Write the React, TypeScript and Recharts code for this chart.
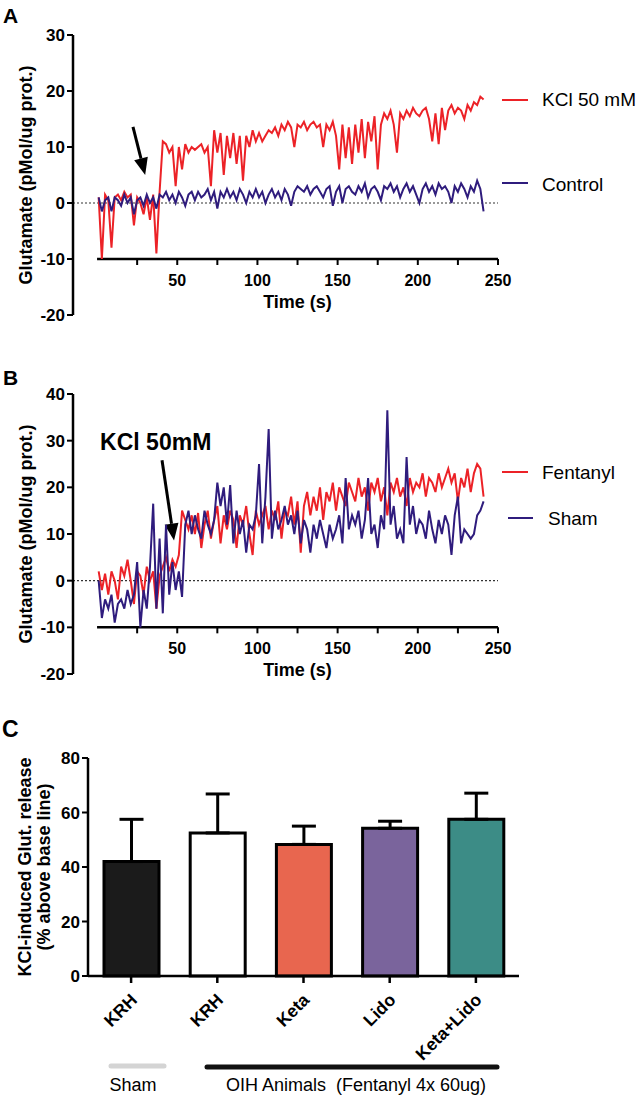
import React from "react";
import {
  Bar,
  BarChart,
  Cell,
  ErrorBar,
  Legend,
  Line,
  LineChart,
  ReferenceDot,
  ReferenceLine,
  XAxis,
  YAxis,
} from "recharts";

// sampling times (s), shared by panels A and B
const TIME = [
  1, 3, 5, 7, 9, 11, 13, 15, 17, 19,
  21, 23, 25, 27, 29, 31, 33, 35, 37, 39,
  41, 43, 45, 47, 49, 51, 53, 55, 57, 59,
  61, 63, 65, 67, 69, 71, 73, 75, 77, 79,
  81, 83, 85, 87, 89, 91, 93, 95, 97, 99,
  101, 103, 105, 107, 109, 111, 113, 115, 117, 119,
  121, 123, 125, 127, 129, 131, 133, 135, 137, 139,
  141, 143, 145, 147, 149, 151, 153, 155, 157, 159,
  161, 163, 165, 167, 169, 171, 173, 175, 177, 179,
  181, 183, 185, 187, 189, 191, 193, 195, 197, 199,
  201, 203, 205, 207, 209, 211, 213, 215, 217, 219,
  221, 223, 225, 227, 229, 231, 233, 235, 237, 239,
  241,
];

// panel A
const KCL_A = [
  1, -10, 1.5, 0.5, -8, 1, 1.5, 0.5, 2, 1,
  1.5, -4, 1, 0, -2, 1, -3, 1.5, -9, 2,
  11, 10.5, 9, 10, 3, 10, 6, 10.5, 9, 10,
  9.5, 10, 10.5, 9, 10, 3, 13, 9, 12.5, 5,
  12, 8, 12.5, 7, 12, 4, 12, 10, 13, 11,
  12.5, 11, 12, 13, 12.5, 13.5, 12, 14, 13, 14.5,
  13.5, 10, 14, 13.5, 14.5, 13, 14, 14.5, 13.5, 14,
  10, 14, 13, 14.5, 12, 6, 14, 8, 13.5, 7,
  14, 9, 15, 8, 14.5, 11, 15.5, 6, 14, 16,
  15, 16.5, 14, 9, 16, 15, 16.5, 15.5, 17, 16,
  15.5, 16.5, 17, 15, 11, 16, 10.5, 17, 13, 16.5,
  17.5, 16, 17, 16.5, 15, 17.5, 16.5, 18, 17.5, 19,
  18.5,
];

const CONTROL_A = [
  1, -1.5, 0.5, 1, -1.5, 1, 0.5, -0.5, 1.5, 0,
  1, -2, 0.5, 1, -0.5, 1.5, 0, 1, -1, 1.5,
  1, 2, 0.5, 1.5, 0, 2, 1, -0.5, 1.5, 2,
  0.5, 2, 1, 1.5, 2.5, 0.5, 2, -1, 2, 1,
  2.5, 1, 2, 0.5, 2.5, 1.5, 0, 2, 1, 2.5,
  1, 2, 0, 1.5, 2.5, 1, 2, 0.5, 2.5, 1.5,
  -0.5, 2, 3, 2.5, 2, 3, 1.5, 2.5, 3, 2,
  1, 2.5, 3, -0.5, 2, 3, 0, 2.5, 3, 2,
  1.5, 3, 2, 3.5, 1, 2.5, 3, 2, 0.5, 3,
  2.5, 3.5, 2, 3, 1, 2.5, 3.5, 2, 3, 1.5,
  0, 2.5, 3.5, 2, 3, 1.5, 3.5, 2.5, 3, 2,
  0, 3, 2, 3.5, 2.5, 1, 3, 2, 4, 2.5,
  -1.5,
];

// panel B
const FENTANYL_B = [
  2, -2, 1.5, -3, 2, 0, -4, 3, 1, 4.5,
  0, -5, 2, 1, -3, 3, 0, 2, -6, 1,
  3, 5, 2, 4.5, 3, 5.5, 15, 13, 11, 14,
  10, 14.5, 7, 12, 15, 9, 13, 16, 8, 14,
  11, 15, 13, 7, 14, 12, 16, 10, 5.5, 15,
  12, 14, 16, 11, 15, 13, 17, 9, 15, 14,
  18, 12, 17, 6, 16, 19, 14, 18, 15, 20,
  13, 19, 17, 21, 15, 20, 18, 16, 21, 19,
  17, 22, 18, 20, 15, 21, 19, 22, 17, 20,
  14, 21, 19, 22, 18, 20, 16, 22, 19, 21,
  20, 23, 18, 22, 21, 19, 23, 20, 22, 24,
  21, 23, 17, 22, 20, 24, 19, 23, 25, 24,
  18,
];

const SHAM_B = [
  0, -8, -4, -6, -3, -9, -5, -4, -6, -2,
  -5, -3, 4, -10, -2, -6, 3, 16.5, -6, 9,
  -7, 12, -3, 4, -2, 2, -3.5, 12, 15, 10,
  14, 11, 9, 15, 12, 10, 13, 21, 16, 20,
  12, 20.5, 8, 15, 10, 13, 6, 12, 11, 14,
  25, 8, 18, 32.5, 9, 15, 11, 13, 16, 12,
  14, 10, 15, 8, 13, 11, 6, 12, 9, 13,
  10, 7, 12, 9, 11, 14, 8, 22, 11, 14,
  12, 15, 9, 13, 22, 10, 12, 7, 14, 11,
  36.5, 12, 16, 9, 11, 8, 26.5, 12, 16, 10,
  13, 12, 9, 15, 11, 8, 13, 10, 14, 12,
  5.5, 14, 18, 8, 11, 10, 9, 10, 14, 15,
  17,
];

const TIME_TICKS = [25, 50, 75, 100, 125, 150, 175, 200, 225, 250];
const A_Y_TICKS = [-20, -10, 0, 10, 20, 30];
const B_Y_TICKS = [-20, -10, 0, 10, 20, 30, 40];

// panel C
const GROUPS = ["KRH", "KRH", "Keta", "Lido", "Keta+Lido"];
const RELEASE_MEAN = [42, 52.5, 48.3, 54.2, 57.5];
const RELEASE_SEM = [15.5, 14.3, 6.7, 2.6, 9.6];
const BAR_COLORS = ["#1b1b1b", "#ffffff", "#e8664f", "#7a649c", "#3c8c86"];
const C_Y_TICKS = [0, 20, 40, 60, 80];

const FONT = "'Liberation Sans', Arial, Helvetica, sans-serif";
const RED = "#ec2227";
const BLUE = "#2f1c7d";

const dataA = TIME.map((t, i) => ({ t, kcl: KCL_A[i], control: CONTROL_A[i] }));
const dataB = TIME.map((t, i) => ({ t, fentanyl: FENTANYL_B[i], sham: SHAM_B[i] }));
const dataC = GROUPS.map((group, i) => ({ group, mean: RELEASE_MEAN[i], err: [0, RELEASE_SEM[i]] }));

// legend placement inside each wrapper: [lineX1, lineX2, lineY, textX, textY]
const LEGEND_A_POS = [
  [2, 28, 20, 42, 26],
  [2, 28, 103, 42, 111],
];
const LEGEND_B_POS = [
  [2, 28, 22, 42, 29],
  [8, 33, 68, 48, 75],
];

function TimeTick(props: any) {
  const { x, y, payload, lift } = props;
  const y0 = y - lift;
  const major = payload.value % 50 === 0;
  return (
    <g>
      <line x1={x} x2={x} y1={y0} y2={y0 + 6} stroke="#000" strokeWidth={2} />
      {major ? (
        <text x={x} y={y0 + 27} textAnchor="middle" fontSize={16} fontWeight="bold" fontFamily={FONT} fill="#000">
          {payload.value}
        </text>
      ) : null}
    </g>
  );
}

function GroupTick(props: any) {
  const { x, y, payload } = props;
  const ax = x + 7;
  const ay = y + 16;
  return (
    <text
      x={ax}
      y={ay}
      transform={`rotate(-45 ${ax} ${ay})`}
      textAnchor="end"
      fontSize={17.5}
      fontWeight="bold"
      fontFamily={FONT}
      fill="#000"
    >
      {payload.value}
    </text>
  );
}

function XTitle(props: any) {
  const { viewBox, dx = 0, dy = 0 } = props;
  return (
    <text
      x={viewBox.x + viewBox.width / 2 + dx}
      y={viewBox.y + dy}
      textAnchor="middle"
      fontSize={18}
      fontWeight="bold"
      fontFamily={FONT}
      fill="#000"
    >
      Time (s)
    </text>
  );
}

function YTitle(props: any) {
  const { viewBox, lines, xs, size = 18 } = props;
  const cy = viewBox.y + viewBox.height / 2;
  return (
    <g>
      {lines.map((line: string, i: number) => (
        <text
          key={i}
          x={xs[i]}
          y={cy}
          transform={`rotate(-90 ${xs[i]} ${cy})`}
          textAnchor="middle"
          fontSize={size}
          fontWeight="bold"
          fontFamily={FONT}
          fill="#000"
        >
          {line}
        </text>
      ))}
    </g>
  );
}

function Arrow(props: any) {
  const { x1, y1, x2, y2 } = props;
  const dx = x2 - x1;
  const dy = y2 - y1;
  const len = Math.sqrt(dx * dx + dy * dy);
  const ux = dx / len;
  const uy = dy / len;
  const headLen = 17;
  const half = 7;
  const bx = x2 - ux * headLen;
  const by = y2 - uy * headLen;
  return (
    <g>
      <line x1={x1} y1={y1} x2={bx} y2={by} stroke="#000" strokeWidth={3} />
      <polygon
        points={`${x2},${y2} ${bx - uy * half},${by + ux * half} ${bx + uy * half},${by - ux * half}`}
        fill="#000"
      />
    </g>
  );
}

function SeriesLegend(props: any) {
  const { payload, pos, order } = props;
  const entries = order
    .map((name: string) => (payload || []).find((e: any) => e.value === name))
    .filter(Boolean);
  return (
    <svg width={137} height={130} style={{ overflow: "visible" }}>
      {entries.map((entry: any, i: number) => {
        const [lx1, lx2, ly, tx, ty] = pos[i];
        return (
          <g key={entry.value}>
            <line x1={lx1} x2={lx2} y1={ly} y2={ly} stroke={entry.color} strokeWidth={2} />
            <text x={tx} y={ty} fontSize={19} fontFamily={FONT} fill="#000">
              {entry.value}
            </text>
          </g>
        );
      })}
    </svg>
  );
}

const yTick = { fill: "#000", fontSize: 17, fontWeight: "bold", fontFamily: FONT };
const axisLine = { stroke: "#000", strokeWidth: 2.5 };
const tickLine = { stroke: "#000", strokeWidth: 2 };

export default function App() {
  return (
    <div style={{ position: "absolute", left: 0, top: 0, width: 637, height: 1098, background: "#fff", fontFamily: FONT }}>
      <div style={{ position: "absolute", left: 0, top: 0 }}>
        <LineChart width={637} height={330} data={dataA} margin={{ top: 35, right: 139, bottom: 0, left: 0 }}>
          <XAxis
            type="number"
            dataKey="t"
            domain={[-15, 250]}
            ticks={TIME_TICKS}
            interval={0}
            height={15}
            axisLine={false}
            tickLine={false}
            tickSize={0}
            tickMargin={0}
            tick={<TimeTick lift={56} />}
            label={<XTitle dx={12} dy={-7} />}
          />
          <YAxis
            type="number"
            domain={[-20, 30]}
            ticks={A_Y_TICKS}
            interval={0}
            width={73}
            axisLine={axisLine}
            tickLine={tickLine}
            tickSize={6}
            tickMargin={2}
            tick={yTick}
            label={<YTitle lines={["Glutamate (pMol/ug prot.)"]} xs={[32]} />}
          />
          <ReferenceLine segment={[{ x: -15, y: 0 }, { x: 250, y: 0 }]} stroke="#333" strokeDasharray="2 2" strokeWidth={1.2} />
          <ReferenceLine segment={[{ x: 0, y: -10 }, { x: 250, y: -10 }]} stroke="#000" strokeWidth={2.5} />
          <ReferenceLine segment={[{ x: 22.4, y: 13.6 }, { x: 30, y: 5 }]} shape={Arrow} />
          <Line dataKey="kcl" name="KCl 50 mM" type="linear" stroke={RED} strokeWidth={2} dot={false} isAnimationActive={false} />
          <Line dataKey="control" name="Control" type="linear" stroke={BLUE} strokeWidth={2} dot={false} isAnimationActive={false} />
          <Legend
            layout="horizontal"
            verticalAlign="middle"
            align="center"
            content={<SeriesLegend pos={LEGEND_A_POS} order={["KCl 50 mM", "Control"]} />}
            wrapperStyle={{ left: 500, top: 80, width: 137, height: 130 }}
          />
        </LineChart>
      </div>

      <div style={{ position: "absolute", left: 0, top: 330 }}>
        <LineChart width={637} height={360} data={dataB} margin={{ top: 64, right: 139, bottom: 0, left: 0 }}>
          <XAxis
            type="number"
            dataKey="t"
            domain={[-15, 250]}
            ticks={TIME_TICKS}
            interval={0}
            height={16}
            axisLine={false}
            tickLine={false}
            tickSize={0}
            tickMargin={0}
            tick={<TimeTick lift={46.67} />}
            label={<XTitle dx={12} dy={2} />}
          />
          <YAxis
            type="number"
            domain={[-20, 40]}
            ticks={B_Y_TICKS}
            interval={0}
            width={73}
            axisLine={axisLine}
            tickLine={tickLine}
            tickSize={6}
            tickMargin={2}
            tick={yTick}
            label={<YTitle lines={["Glutamate (pMol/ug prot.)"]} xs={[32]} />}
          />
          <ReferenceLine segment={[{ x: -15, y: 0 }, { x: 250, y: 0 }]} stroke="#333" strokeDasharray="2 2" strokeWidth={1.2} />
          <ReferenceLine segment={[{ x: 0, y: -10 }, { x: 250, y: -10 }]} stroke="#000" strokeWidth={2.5} />
          <ReferenceLine segment={[{ x: 40.5, y: 25.8 }, { x: 48, y: 8.6 }]} shape={Arrow} />
          <ReferenceDot
            x={1.9}
            y={28}
            r={0}
            shape={(p: any) => (
              <text x={p.cx} y={p.cy} fontSize={23} fontWeight="bold" fontFamily={FONT} fill="#000">
                KCl 50mM
              </text>
            )}
          />
          <Line dataKey="fentanyl" name="Fentanyl" type="linear" stroke={RED} strokeWidth={2} dot={false} isAnimationActive={false} />
          <Line dataKey="sham" name="Sham" type="linear" stroke={BLUE} strokeWidth={2} dot={false} isAnimationActive={false} />
          <Legend
            layout="horizontal"
            verticalAlign="middle"
            align="center"
            content={<SeriesLegend pos={LEGEND_B_POS} order={["Fentanyl", "Sham"]} />}
            wrapperStyle={{ left: 500, top: 120, width: 137, height: 130 }}
          />
        </LineChart>
      </div>

      <div style={{ position: "absolute", left: 0, top: 690 }}>
        <BarChart width={637} height={408} data={dataC} margin={{ top: 68, right: 118, bottom: 0, left: 0 }}>
          <XAxis
            dataKey="group"
            interval={0}
            height={122}
            axisLine={axisLine}
            tickLine={{ stroke: "#000", strokeWidth: 2.5 }}
            tickSize={7}
            tickMargin={2}
            tick={<GroupTick />}
          />
          <YAxis
            type="number"
            domain={[0, 80]}
            ticks={C_Y_TICKS}
            interval={0}
            width={88}
            axisLine={axisLine}
            tickLine={tickLine}
            tickSize={6}
            tickMargin={2}
            tick={yTick}
            label={<YTitle lines={["KCl-induced Glut. release", "(% above base line)"]} xs={[31, 50]} size={18} />}
          />
          <Bar dataKey="mean" barSize={55} stroke="#000" strokeWidth={3} isAnimationActive={false}>
            {BAR_COLORS.map((c, i) => (
              <Cell key={i} fill={c} />
            ))}
            <ErrorBar dataKey="err" direction="y" width={12} stroke="#000" strokeWidth={3} />
          </Bar>
        </BarChart>
      </div>

      <svg width={637} height={1098} style={{ position: "absolute", left: 0, top: 0, pointerEvents: "none" }}>
        <text x={3} y={23} fontSize={21} fontWeight="bold" fontFamily={FONT}>A</text>
        <text x={3} y={385} fontSize={21} fontWeight="bold" fontFamily={FONT}>B</text>
        <text x={2} y={737} fontSize={23} fontWeight="bold" fontFamily={FONT}>C</text>
        <line x1={111} x2={164} y1={1066} y2={1066} stroke="#d4d4d4" strokeWidth={5} strokeLinecap="round" />
        <line x1={207} x2={497} y1={1067} y2={1067} stroke="#111" strokeWidth={5} strokeLinecap="round" />
        <text x={133} y={1091} textAnchor="middle" fontSize={18} fontFamily={FONT}>Sham</text>
        <text x={226} y={1091} fontSize={18} fontFamily={FONT} style={{ whiteSpace: "pre" }}>
          {"OIH Animals  (Fentanyl 4x 60ug)"}
        </text>
      </svg>
    </div>
  );
}
